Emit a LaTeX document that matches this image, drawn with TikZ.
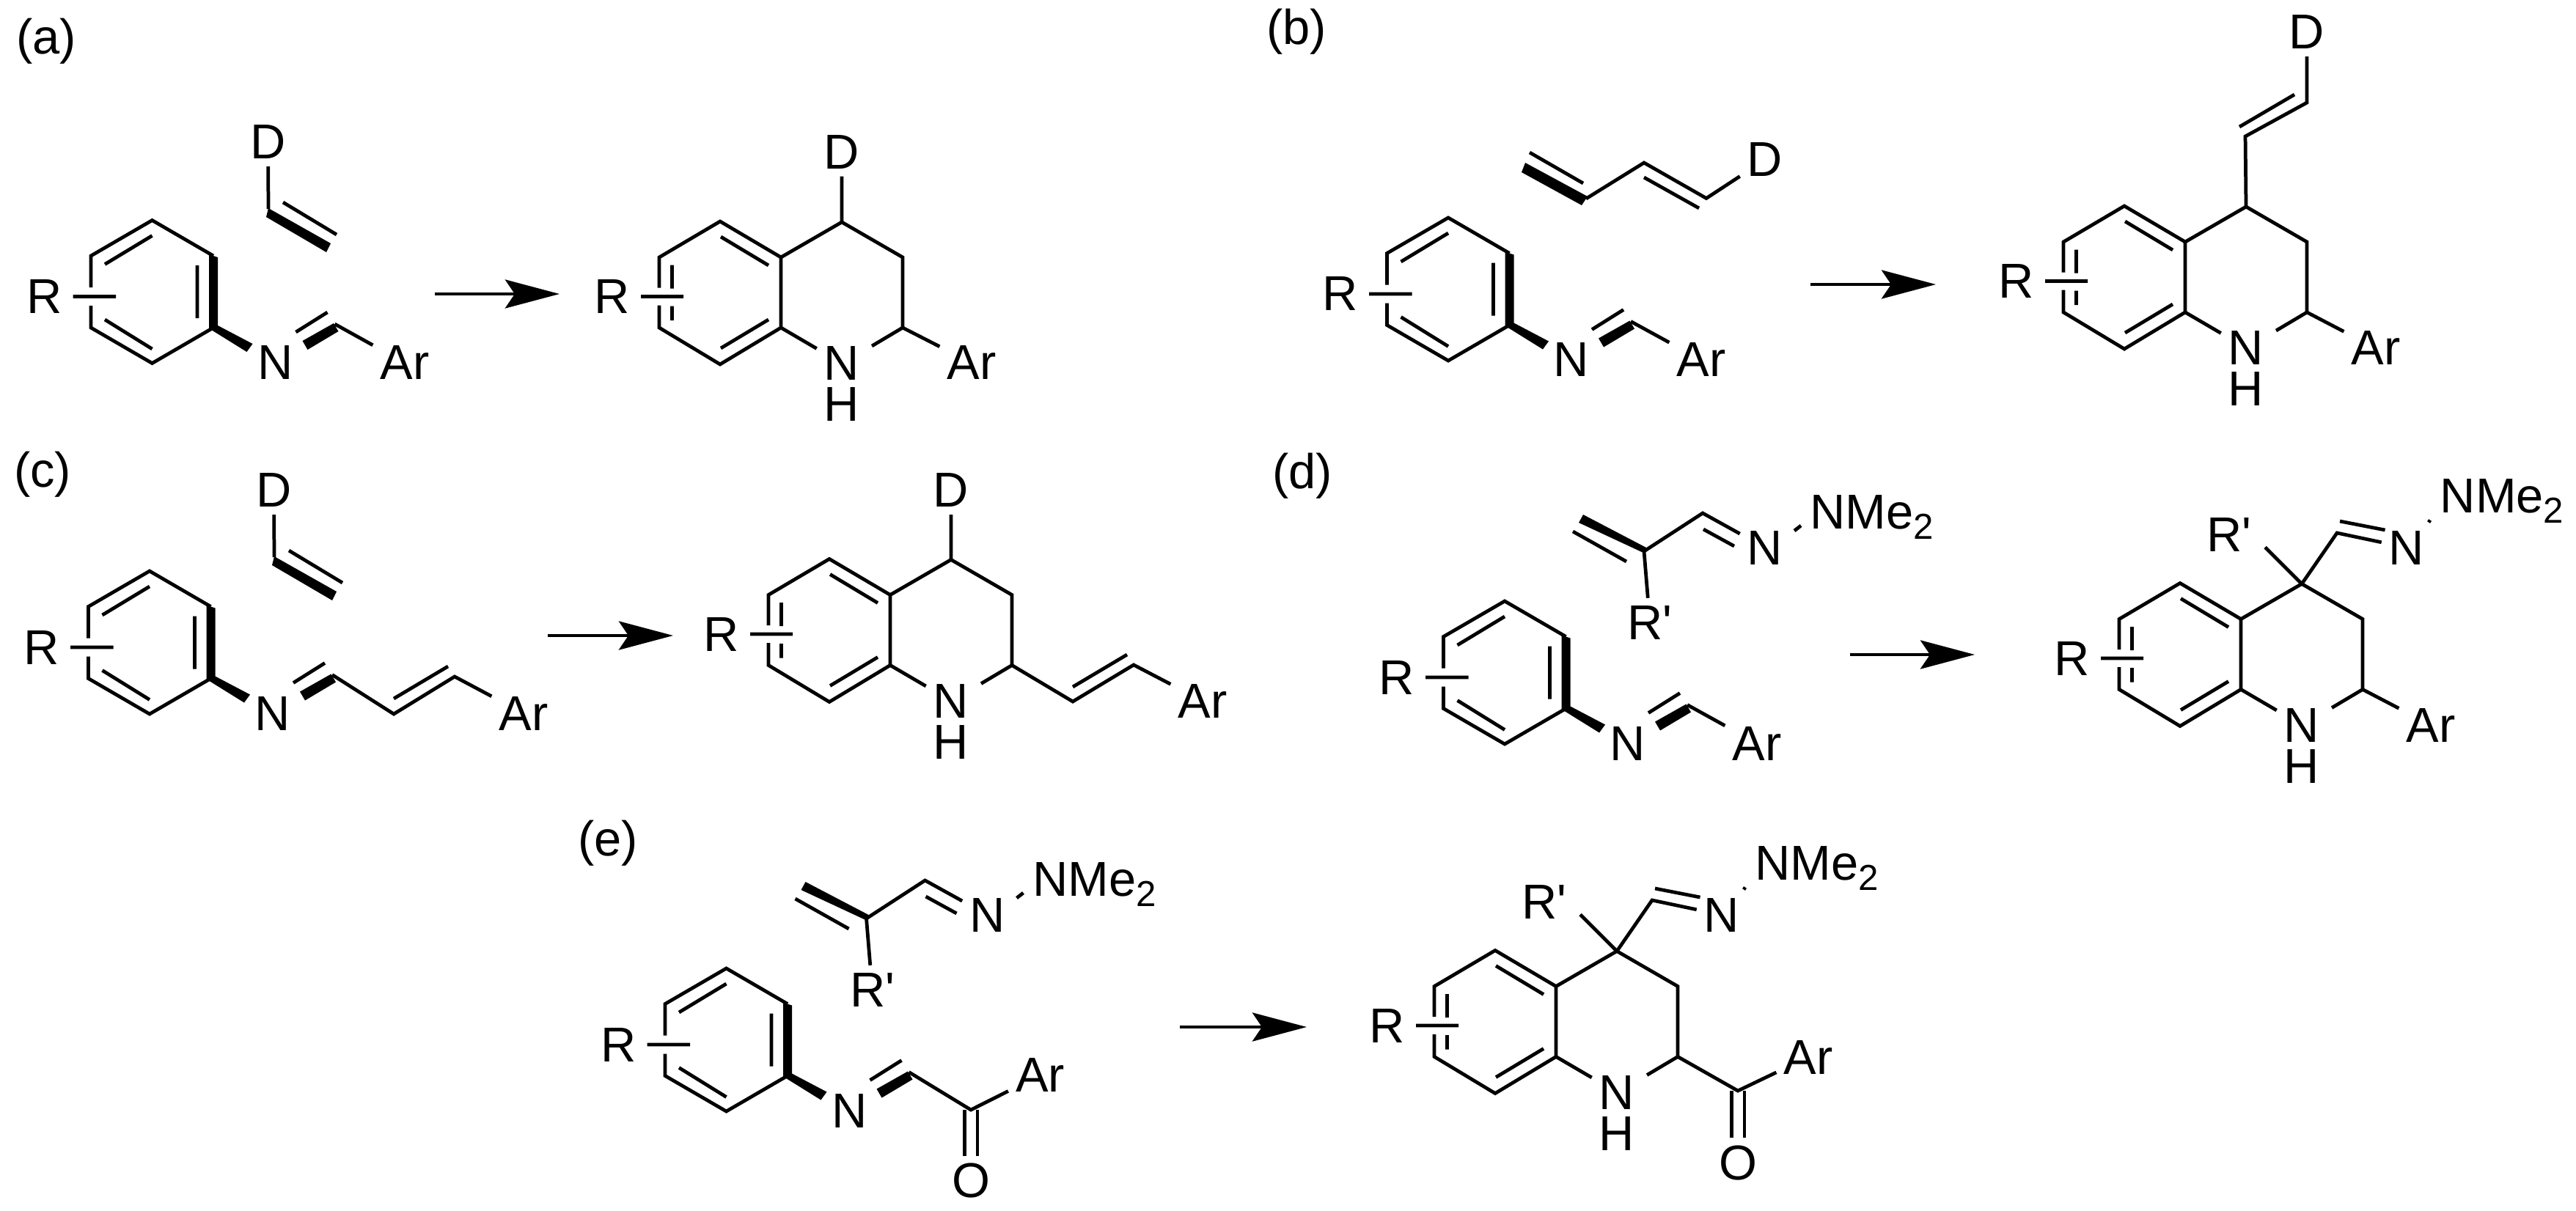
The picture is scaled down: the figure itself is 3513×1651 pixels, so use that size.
\documentclass[tikz,border=0pt]{standalone}
\usepackage{fontspec}
\newfontfamily\chemfont{Liberation Sans}
\usetikzlibrary{arrows.meta}
\tikzset{
  bond/.style={line width=1.35pt},
  boldbond/.style={fill=black},
  atom/.style={inner sep=0.095cm},
  panel/.style={inner sep=0pt},
  rxn/.style={bond,-{Stealth[length=0.74cm,width=0.39cm,inset=0.13cm]}},
  aryl/.pic={
    \foreach \n/\x/\y in {t/0/-97.5,ul/-83.5/-49,ll/-83.5/49,b/0/97.5,lr/83.5/49,ur/83.5/-49,
      g1/-83.5/-6,g2/-83.5/19,s1/-108/6.5,s2/-49.5/6.5,c/249/44,
      i1/-64.5/-37.5,i2/0/-76.5,i3/-64.5/38,i4/0/78,i5/61.5/-36,i6/61.5/36,i7/196/55,i8/239/28}
      \coordinate (-\n) at (\x,\y);
    \node[atom] (-R) at (-147,6.5) {R};
    \node[atom] (-N) at (168,96.5) {N};
    \draw[bond] (-g1) -- (-ul) -- (-t) -- (-ur) (-lr) -- (-b) -- (-ll) -- (-g2);
    \draw[bond] (-s1) -- (-s2) (-i1) -- (-i2) (-i3) -- (-i4) (-i5) -- (-i6) (-i7) -- (-i8);
    \fill[boldbond] (77.5,-51) -- (89.5,-47) -- (89.5,46) -- (137,71) -- (129,82) -- (77.5,50) -- cycle;
    \fill[boldbond] (205,67) -- (247.5,43) -- (254,54) -- (212,79) -- cycle;
  },
  core/.pic={
    \foreach \n/\x/\y in {t/0/-97.5,ul/-83/-48.5,ll/-83/47.5,b/0/97.5,lr/83/47.5,ur/83/-48.5,
      c4/166/-96.5,c3/249/-48.5,c2/249/47.5,g1/-83/-7,g2/-83/17,s1/-108/5,s2/-50/5,ne/207/72.5,
      i1/-65.5/-38,i2/-65.5/-6,i3/-65.5/18,i4/-65.5/37.5,i5/1/-76.5,i6/66/-37.5,i7/1/75.5,i8/66/36.5}
      \coordinate (-\n) at (\x,\y);
    \node[atom] (-R) at (-147,5.5) {R};
    \node[atom,inner ysep=0pt] (-N) at (166,96) {N};
    \node[panel] (-H) at (166,152) {H};
    \draw[bond] (-g1) -- (-ul) -- (-t) -- (-ur) -- (-lr) -- (-b) -- (-ll) -- (-g2);
    \draw[bond] (-ur) -- (-c4) -- (-c3) -- (-c2) -- (-ne) (-lr) -- (-N);
    \draw[bond] (-s1) -- (-s2) (-i1) -- (-i2) (-i3) -- (-i4) (-i5) -- (-i6) (-i7) -- (-i8);
  },
  vinyl/.pic={
    \coordinate (-v) at (0,0);
    \coordinate (-i1) at (20,-9);
    \coordinate (-i2) at (93,35);
    \node[atom] (-D) at (-0.5,-91) {D};
    \draw[bond] (-v) -- (-D) (-i1) -- (-i2);
    \fill[boldbond] (0,-1) -- (85,47) -- (79,59) -- (-3,11) -- cycle;
  },
  hydrazone/.pic={
    \foreach \n/\x/\y in {v/0/0,ch/80/-52,i1/-97/-27,i2/-24/14,i3/81/-30,i4/123/-7,d1/214/-35,d2/205/-28}
      \coordinate (-\n) at (\x,\y);
    \node[atom] (-N) at (165,-5) {N};
    \node[atom] (-Rp) at (8,97) {R'};
    \node[panel,anchor=base west] (-Me) at (226,-31) {NMe\raisebox{-0.14cm}{\fontsize{14}{14}\selectfont 2}};
    \draw[bond] (-v) -- (-Rp) (-v) -- (-ch) -- (-N) (-i1) -- (-i2) (-i3) -- (-i4) (-d1) -- (-d2);
    \fill[boldbond] (-83,-50) -- (3,-5) -- (-1,2) -- (-89,-39) -- cycle;
  },
  adduct/.pic={
    \foreach \n/\x/\y in {v/0/0,ch/48/-69.5,re/-50/-50,i1/52/-85.5,i2/113.5/-73.5,d1/175/-87,d2/173/-84}
      \coordinate (-\n) at (\x,\y);
    \node[atom] (-N) at (143,-49.5) {N};
    \node[panel] (-Rp) at (-99,-67) {R'};
    \node[panel,anchor=base west] (-Me) at (188,-97.5) {NMe\raisebox{-0.14cm}{\fontsize{14}{14}\selectfont 2}};
    \draw[bond] (-v) -- (-re) (-v) -- (-ch) -- (-N) (-i1) -- (-i2) (-d1) -- (-d2);
  },
}
\begin{document}
\begin{tikzpicture}[x=0.01cm,y=-0.01cm,font=\chemfont\fontsize{19}{21}\selectfont]
  \useasboundingbox (0,0) rectangle (3513,1651);
  \foreach \n/\xa/\xb/\y in {a/593/763/401,b/2469/2640/388,c/747/918/867,d/2523/2693/893,e/1609/1782/1401}{
    \coordinate (\n1) at (\xa,\y);
    \coordinate (\n2) at (\xb,\y);
    \draw[rxn] (\n1) -- (\n2);
  }
  \node[panel] (la) at (63,56) {(a)};
  \node[panel] (lb) at (1768,43) {(b)};
  \node[panel] (lc) at (58,647) {(c)};
  \node[panel] (ld) at (1776,649) {(d)};
  \node[panel] (le) at (829,1150) {(e)};

  % (a)
  \pic (va) at (366,285) {vinyl};
  \pic (ra) at (207.5,398) {aryl};
  \node[atom] (raAr) at (552,495) {Ar};
  \draw[bond] (ra-c) -- (raAr);
  \pic (pa) at (982,399.5) {core};
  \node[atom] (paD) at (1148,207.5) {D};
  \node[atom] (paAr) at (1325,495) {Ar};
  \draw[bond] (pa-c4) -- (paD) (pa-c2) -- (paAr);

  % (b)
  \foreach \n/\x/\y in {bv/2163/271,bw/2242/222,bu/2327/270.5,bi1/2086/208,bi2/2159/250,bi3/2242/242,bi4/2317/284}
    \coordinate (\n) at (\x,\y);
  \node[atom] (bD) at (2407,218) {D};
  \draw[bond] (bv) -- (bw) -- (bu) -- (bD) (bi1) -- (bi2) (bi3) -- (bi4);
  \fill[boldbond] (2080,222) -- (2165,268) -- (2157,280) -- (2075,235) -- cycle;
  \pic (rb) at (1975,394.5) {aryl};
  \node[atom] (rbAr) at (2320,491) {Ar};
  \draw[bond] (rb-c) -- (rbAr);
  \pic (pb) at (2897,378.5) {core};
  \foreach \n/\x/\y in {pv1/3062/186,pv2/3146/140,pi1/3054/173,pi2/3129/129}
    \coordinate (\n) at (\x,\y);
  \node[atom] (pbD) at (3146,44) {D};
  \node[atom] (pbAr) at (3240,475) {Ar};
  \draw[bond] (pb-c4) -- (pv1) -- (pv2) -- (pbD) (pi1) -- (pi2) (pb-c2) -- (pbAr);

  % (c)
  \pic (vc) at (374,760) {vinyl};
  \pic (rc) at (204,876.5) {aryl};
  \foreach \n/\x/\y in {cv1/537/974,cv2/620/923,ci1/537/953,ci2/611/909,qv1/1463/957,qv2/1546/907,qi1/1463/937,qi2/1537/893}
    \coordinate (\n) at (\x,\y);
  \node[atom] (rcAr) at (714,973) {Ar};
  \draw[bond] (rc-c) -- (cv1) -- (cv2) -- (rcAr) (ci1) -- (ci2);
  \pic (pc) at (1131,860) {core};
  \node[atom] (pcD) at (1297,669) {D};
  \node[atom] (pcAr) at (1640,956) {Ar};
  \draw[bond] (pc-c4) -- (pcD) (pc-c2) -- (qv1) -- (qv2) -- (pcAr) (qi1) -- (qi2);

  % (d)
  \pic (hd) at (2242,752) {hydrazone};
  \pic (rd) at (2052,917.5) {aryl};
  \node[atom] (rdAr) at (2396,1014) {Ar};
  \draw[bond] (rd-c) -- (rdAr);
  \pic (pd) at (2973,893) {core};
  \pic (ad) at (3139,796.5) {adduct};
  \node[atom] (pdAr) at (3315,989) {Ar};
  \draw[bond] (pd-c2) -- (pdAr);

  % (e)
  \pic (he) at (1181.5,1253) {hydrazone};
  \pic (re) at (990.5,1418.5) {aryl};
  \coordinate (eco) at (1324,1514);
  \node[atom] (eO) at (1324,1610.5) {O};
  \node[atom] (reAr) at (1418.5,1466.6) {Ar};
  \draw[bond,double,double distance=0.13cm] (eco) -- (eO);
  \draw[bond] (re-c) -- (eco) -- (reAr);
  \pic (pe) at (2039,1394) {core};
  \pic (ae) at (2205,1297.5) {adduct};
  \coordinate (qco) at (2370,1488);
  \node[atom] (qO) at (2370,1586) {O};
  \node[atom] (peAr) at (2466,1442) {Ar};
  \draw[bond,double,double distance=0.13cm] (qco) -- (qO);
  \draw[bond] (pe-c2) -- (qco) -- (peAr);
\end{tikzpicture}
\end{document}
